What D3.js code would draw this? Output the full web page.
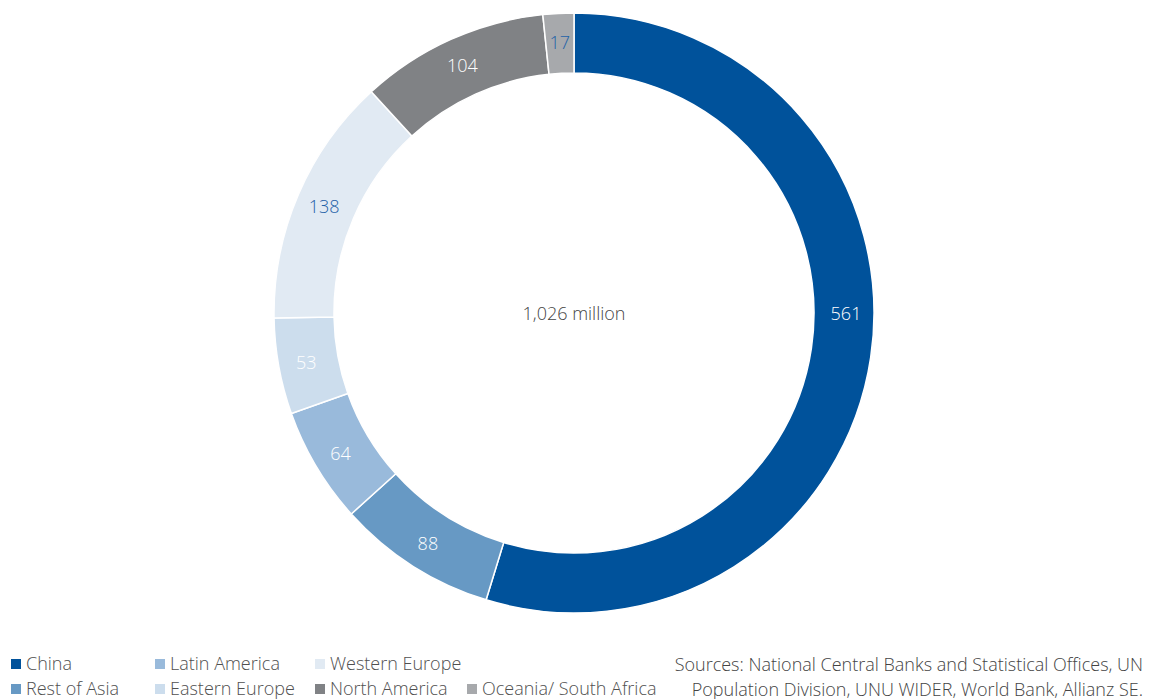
<!DOCTYPE html>
<html><head><meta charset="utf-8">
<script src="https://cdn.jsdelivr.net/npm/d3@7"></script>
<style>
html,body{margin:0;padding:0;background:#fff;}
svg{display:block;font-family:"Open Sans","Noto Sans",sans-serif;}
</style></head>
<body>
<svg id="chart" width="1153" height="699"></svg>
<script>
const categories = ["China","Rest of Asia","Latin America","Eastern Europe","Western Europe","North America","Oceania/ South Africa"];
const values = [561, 88, 64, 53, 138, 104, 17];
const colors = ["#00529b","#6799c4","#99badb","#ccdded","#e1eaf3","#808285","#a7a9ac"];
const labelColors = ["#fff","#fff","#fff","#fff","#1f62a8","#fff","#1f62a8"];
const legendOrder = [["China","Latin America","Western Europe"],["Rest of Asia","Eastern Europe","North America","Oceania/ South Africa"]];
const totalLabel = "1,026 million";
const sourceLines = ["Sources: National Central Banks and Statistical Offices, UN","Population Division, UNU WIDER, World Bank, Allianz SE."];

const svg = d3.select("#chart");
const cx = 574, cy = 313, R = 300, r = 240;
const pie = d3.pie().sort(null).value(d => d.v);
const data = categories.map((c,i)=>({c, v: values[i], i}));
const arcs = pie(data);
const arc = d3.arc().innerRadius(r).outerRadius(R);
const labelArc = d3.arc().innerRadius(r + 2).outerRadius(R + 2);
// large slices spanning the horizontal get their label on the horizontal
function labelPos(d) {
  const h = Math.PI / 2;
  if (d.startAngle <= h && d.endAngle >= h && (d.endAngle - d.startAngle) > Math.PI / 2) {
    return labelArc.centroid({startAngle: h, endAngle: h});
  }
  return labelArc.centroid(d);
}
const g = svg.append("g").attr("transform",`translate(${cx},${cy})`);
g.selectAll("path").data(arcs).join("path")
  .attr("d", arc).attr("fill", d => colors[d.data.i])
  .attr("stroke","#fff").attr("stroke-width",1.5);
g.selectAll("text.lbl").data(arcs).join("text").attr("class","lbl")
  .attr("transform", d => `translate(${labelPos(d)})`)
  .attr("text-anchor","middle").attr("dy","0.4em")
  .attr("font-size",18).attr("font-weight",300)
  .attr("fill", d => labelColors[d.data.i])
  .text(d => d.data.v);
g.append("text").attr("text-anchor","middle").attr("dy","0.38em")
  .attr("font-size",18).attr("font-weight",300).attr("fill","#444")
  .text(totalLabel);

const colX = [10, 154, 314, 466];
const rowY = [664, 689];
legendOrder.forEach((row, ri) => {
  row.forEach((name, ci) => {
    const i = categories.indexOf(name);
    const lg = svg.append("g").attr("transform",`translate(${colX[ci]},${rowY[ri]})`);
    lg.append("rect").attr("x",1).attr("y",-5).attr("width",10).attr("height",10).attr("fill",colors[i]);
    lg.append("text").attr("x",16).attr("dy","0.35em").attr("font-size",18).attr("font-weight",300)
      .attr("fill","#505050").text(name);
  });
});
svg.selectAll("text.src").data(sourceLines).join("text").attr("class","src")
  .attr("x",1143).attr("y",(d,i)=>665+i*25).attr("dy","0.35em").attr("text-anchor","end")
  .attr("font-size",18).attr("font-weight",300).attr("fill","#444").text(d=>d);
</script>
</body></html>
